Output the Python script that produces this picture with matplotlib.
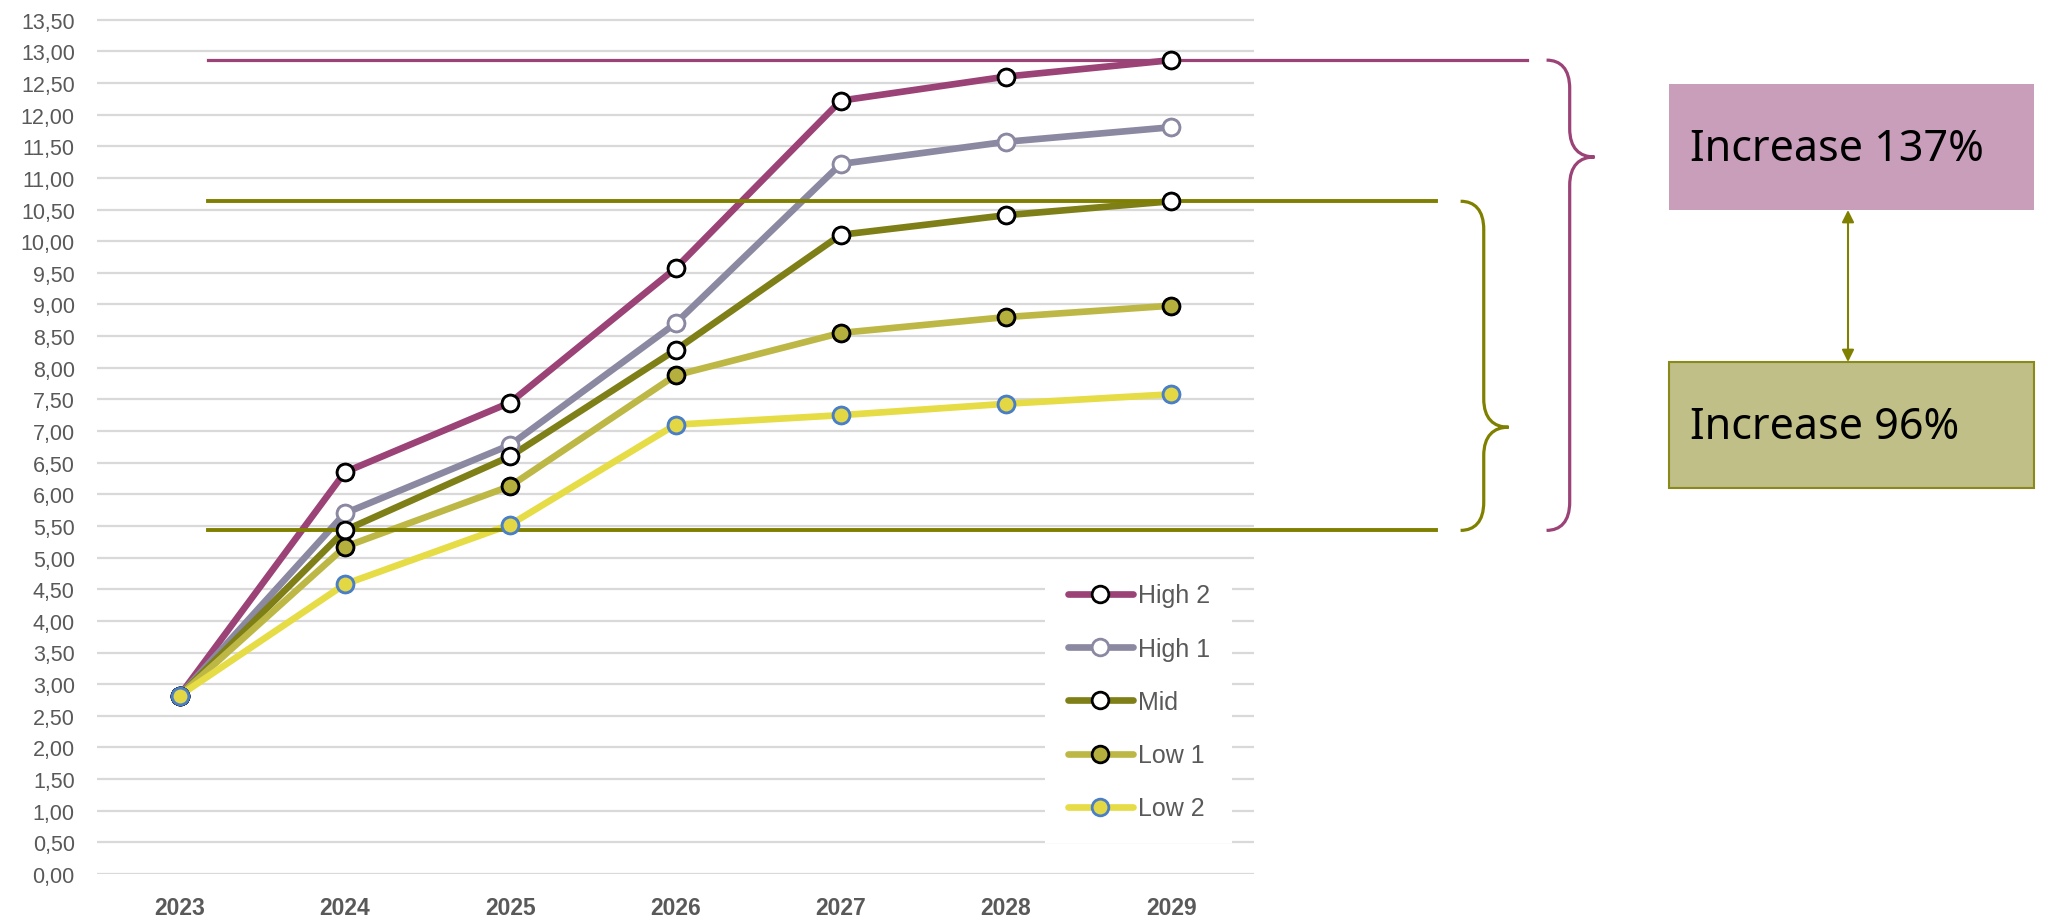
import matplotlib
matplotlib.use("Agg")
import matplotlib.pyplot as plt
from matplotlib.path import Path
from matplotlib.patches import PathPatch, Rectangle, FancyArrowPatch
from matplotlib.ticker import FuncFormatter, MultipleLocator

years = ["2023", "2024", "2025", "2026", "2027", "2028", "2029"]
high2 = [2.82, 6.35, 7.45, 9.57, 12.22, 12.60, 12.86]
high1 = [2.82, 5.70, 6.78, 8.70, 11.22, 11.57, 11.80]
mid = [2.82, 5.43, 6.60, 8.28, 10.10, 10.41, 10.63]
low1 = [2.82, 5.17, 6.13, 7.88, 8.55, 8.80, 8.98]
low2 = [2.82, 4.58, 5.52, 7.10, 7.25, 7.43, 7.58]

series = [
    ("High 2", high2, "#9B4277", "white", "black"),
    ("High 1", high1, "#8B88A2", "white", "#8B88A2"),
    ("Mid", mid, "#7F7F17", "white", "black"),
    ("Low 1", low1, "#BDB846", "#B5AF3E", "black"),
    ("Low 2", low2, "#E6DC45", "#E3D844", "#4A7FC8"),
]

W, H = 2046, 920
fig = plt.figure(figsize=(W / 100, H / 100), dpi=100)
ax = fig.add_axes([97 / W, 45 / H, 1157 / W, 886 / H])

x = list(range(len(years)))
for name, vals, col, face, edge in series:
    ax.plot(x, vals, color=col, lw=4.8, marker="o", ms=12, mfc=face, mec=edge,
            mew=2, label=name, zorder=2, solid_capstyle="round")

# reference levels
magenta = "#9B4277"
olive = "#808000"
ax.plot([0.17, 8.15], [high2[-1]] * 2, color=magenta, lw=2.3, clip_on=False, zorder=2.5)
ax.plot([0.17, 7.6], [mid[-1]] * 2, color=olive, lw=2.8, clip_on=False, zorder=2.5)
ax.plot([0.17, 7.6], [mid[1]] * 2, color=olive, lw=2.8, clip_on=False, zorder=2.5)

# markers again above the reference lines
for name, vals, col, face, edge in series:
    ax.plot(x, vals, ls="none", marker="o", ms=12, mfc=face, mec=edge, mew=2, zorder=3)


def brace(x0, x1, x2, ytop, ytip, ybot, ry, color):
    verts = [
        (x0, ytop),
        (x0 + 0.6 * (x1 - x0), ytop), (x1, ytop - 0.3 * ry), (x1, ytop - ry),
        (x1, ytip + ry),
        (x1, ytip + 0.3 * ry), (x1 + 0.4 * (x2 - x1), ytip), (x2, ytip),
        (x1 + 0.4 * (x2 - x1), ytip), (x1, ytip - 0.3 * ry), (x1, ytip - ry),
        (x1, ybot + ry),
        (x1, ybot + 0.3 * ry), (x0 + 0.6 * (x1 - x0), ybot), (x0, ybot),
    ]
    codes = [Path.MOVETO] + [Path.CURVE4] * 3 + [Path.LINETO] + [Path.CURVE4] * 6 + \
            [Path.LINETO] + [Path.CURVE4] * 3
    ax.add_patch(PathPatch(Path(verts, codes), fc="none", ec=color, lw=2.3, clip_on=False))


brace(8.27, 8.41, 8.56, high2[-1], 11.33, mid[1], 0.45, magenta)
brace(7.75, 7.89, 8.04, mid[-1], 7.06, mid[1], 0.45, olive)

ax.set_xlim(-0.5, 6.5)
ax.set_ylim(0, 14)
ax.yaxis.set_major_locator(MultipleLocator(0.5))
ax.yaxis.set_major_formatter(FuncFormatter(lambda v, p: f"{v:.2f}".replace(".", ",")))
ax.set_xticks(x)
ax.set_xticklabels(years, fontweight="bold")
ax.tick_params(length=0, labelcolor="#595959")
ax.tick_params(axis="y", labelsize=15.5, pad=16)
ax.tick_params(axis="x", labelsize=16.5, pad=16)
for lab in ax.get_xticklabels() + ax.get_yticklabels():
    lab.set_family("Liberation Sans")
ax.grid(axis="y", color="#D9D9D9", lw=1.6, zorder=0)
ax.set_axisbelow(True)
for s in ax.spines.values():
    s.set_visible(False)

leg = ax.legend(loc="upper left", bbox_to_anchor=(1045 / W, 1 - 562 / H),
                bbox_transform=fig.transFigure, frameon=True, facecolor="white",
                edgecolor="none", framealpha=1, fancybox=False, borderpad=0.9,
                handlelength=2.6, handletextpad=0.2, labelspacing=1.17,
                prop={"family": "Liberation Sans", "size": 18}, borderaxespad=0)
for t in leg.get_texts():
    t.set_color("#595959")
leg.set_zorder(5)

# annotation boxes on a pixel overlay
ov = fig.add_axes([0, 0, 1, 1], facecolor="none")
ov.set_xlim(0, W)
ov.set_ylim(H, 0)
ov.axis("off")
ov.add_patch(Rectangle((1669, 85), 365, 126, fc="#C99EBA", ec="none"))
ov.add_patch(Rectangle((1669, 363), 365, 126, fc="#BFBF87", ec="#8A8A1A", lw=1.5))
ov.text(1690, 150, "Increase 137%", fontsize=31, family="Noto Sans", va="center", ha="left")
ov.text(1690, 428, "Increase 96%", fontsize=31, family="Noto Sans", va="center", ha="left")
ov.add_patch(FancyArrowPatch((1848, 211), (1848, 363), arrowstyle="<|-|>",
                             mutation_scale=18, color=olive, lw=1.5,
                             shrinkA=0, shrinkB=0))

fig.savefig("out.png", dpi=100)
